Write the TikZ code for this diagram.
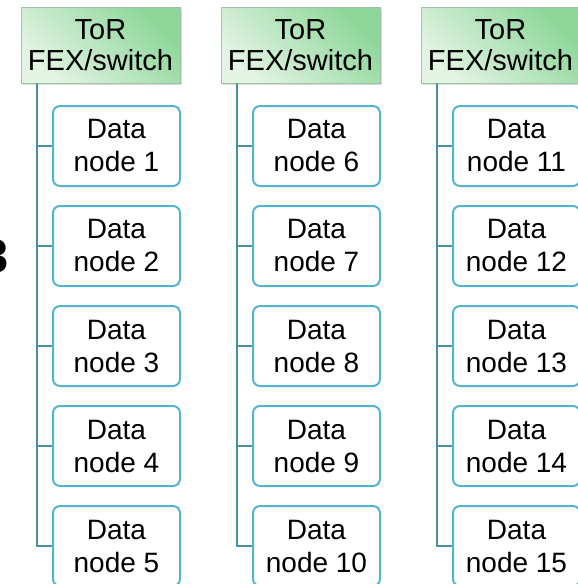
\documentclass[tikz,border=0pt]{standalone}
\usepackage{fontspec}
\setmainfont{Liberation Sans}
\usetikzlibrary{shadows,calc}
\definecolor{gpale}{RGB}{228,244,228}
\definecolor{gdark}{RGB}{140,214,152}
\definecolor{headline}{RGB}{160,196,168}
\definecolor{boxline}{RGB}{84,180,204}
\definecolor{linkcol}{RGB}{74,144,164}
\begin{document}
\begin{tikzpicture}[x=1pt,y=-1pt,
  header/.style={draw=headline, line width=0.8pt,
    top color=gdark, bottom color=gpale, shading angle=-45,
    drop shadow={shadow xshift=1.5pt, shadow yshift=-1.5pt, opacity=0.3},
    minimum width=159pt, minimum height=76pt, inner sep=0pt,
    align=center, font=\fontsize{29}{31}\selectfont},
  databox/.style={draw=boxline, line width=2pt, rounded corners=7pt,
    fill=white, minimum width=127pt, minimum height=80pt, inner sep=0pt,
    align=center, font=\fontsize{28}{33}\selectfont},
  link/.style={draw=linkcol, line width=2pt}]
\useasboundingbox (0,0) rectangle (578,584);
\clip (0,0) rectangle (578,584);
% partly hidden label at the left edge
\node[anchor=base east, inner sep=0pt, font=\fontsize{47}{47}\selectfont\bfseries] (lbl) at (9,272) {3};
\foreach \c/\n in {0/0,1/5,2/10}{
  \node[header] (h\c) at (100.5+200*\c,45) {ToR\\FEX/switch};
  \coordinate (s\c) at ($(h\c.south west)+(16,0)$);
  \foreach \i in {1,...,5}{
    \pgfmathtruncatemacro\k{\n+\i}
    \node[databox] (d\c\i) at (116.5+200*\c,46+100*\i) {Data\\node \k};
    \draw[link] (s\c) |- (d\c\i.west);
  }
}
\end{tikzpicture}
\end{document}
